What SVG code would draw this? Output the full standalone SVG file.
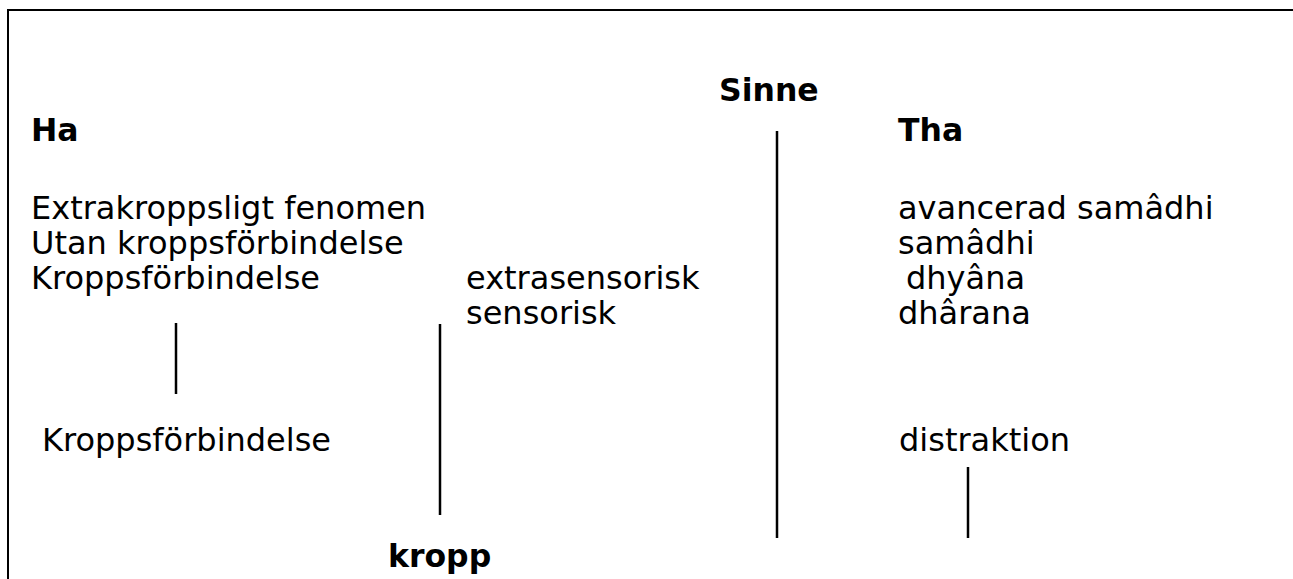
<svg xmlns="http://www.w3.org/2000/svg" width="1293" height="579" viewBox="0 0 1293 579">
<style>
.t{font-family:"DejaVu Sans","Verdana",sans-serif;font-size:32px;fill:#000}
.b{font-family:"DejaVu Sans","Verdana",sans-serif;font-size:31.5px;font-weight:bold;fill:#000}
.ln{stroke:#000;stroke-width:2.5;fill:none}
.fr{stroke:#000;stroke-width:2;fill:none}
</style>
<rect width="1293" height="579" fill="#fff"/>
<path class="fr" d="M8,580 V10 H1294"/>
<g id="sinne"><text class="b" x="719" y="101">Sinne</text></g>
<g id="ha"><text class="b" x="31" y="141">Ha</text></g>
<g id="tha"><text class="b" x="898" y="141">Tha</text></g>
<g id="ha-list">
<text class="t" x="31" y="219">Extrakroppsligt fenomen</text>
<text class="t" x="31" y="254">Utan kroppsförbindelse</text>
<text class="t" x="31" y="289">Kroppsförbindelse</text>
</g>
<g id="sense-list">
<text class="t" x="466" y="289">extrasensorisk</text>
<text class="t" x="466" y="324">sensorisk</text>
</g>
<g id="tha-list">
<text class="t" x="898" y="219">avancerad samâdhi</text>
<text class="t" x="898" y="254">samâdhi</text>
<text class="t" x="906" y="289">dhyâna</text>
<text class="t" x="898" y="324">dhârana</text>
</g>
<g id="kropps2"><text class="t" x="42" y="451">Kroppsförbindelse</text></g>
<g id="distraktion"><text class="t" x="899" y="451">distraktion</text></g>
<g id="kropp"><text class="b" x="388" y="567">kropp</text></g>
<g id="connectors">
<line class="ln" x1="176" y1="323" x2="176" y2="394"/>
<line class="ln" x1="440" y1="324" x2="440" y2="515"/>
<line class="ln" x1="777" y1="131" x2="777" y2="538"/>
<line class="ln" x1="968" y1="467" x2="968" y2="538"/>
</g>
</svg>
